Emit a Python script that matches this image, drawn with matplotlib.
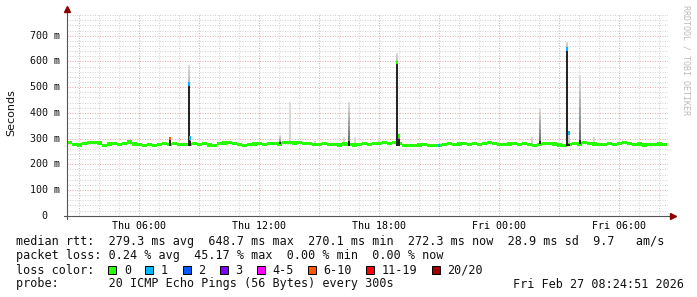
import datetime as dt
import numpy as np
import pandas as pd
import matplotlib
matplotlib.use("Agg")
import matplotlib.pyplot as plt
import matplotlib.dates as mdates
from matplotlib.patches import Rectangle
from matplotlib.ticker import MultipleLocator, FuncFormatter
from matplotlib.transforms import offset_copy, blended_transform_factory

W, H = 697, 297
MONO = "DejaVu Sans Mono"

t_start = dt.datetime(2026, 2, 26, 2, 24, 51)
t_end = dt.datetime(2026, 2, 27, 8, 24, 51)

# median rtt (s), one value per 15 min
median_rtt = [
    0.284, 0.277, 0.275, 0.282, 0.284, 0.285, 0.283, 0.274, 0.279, 0.281,
    0.276, 0.280, 0.287, 0.279, 0.278, 0.274, 0.276, 0.273, 0.277, 0.280,
    0.278, 0.280, 0.276, 0.278, 0.276, 0.280, 0.277, 0.281, 0.275, 0.274,
    0.281, 0.283, 0.284, 0.281, 0.277, 0.272, 0.276, 0.279, 0.280, 0.276,
    0.280, 0.282, 0.279, 0.284, 0.286, 0.283, 0.285, 0.282, 0.280, 0.278,
    0.277, 0.281, 0.278, 0.276, 0.275, 0.279, 0.276, 0.275, 0.278, 0.280,
    0.276, 0.280, 0.282, 0.284, 0.282, 0.285, 0.280, 0.273, 0.272, 0.273,
    0.275, 0.276, 0.274, 0.273, 0.272, 0.278, 0.281, 0.277, 0.279, 0.282,
    0.277, 0.280, 0.276, 0.281, 0.284, 0.282, 0.277, 0.276, 0.279, 0.281,
    0.277, 0.282, 0.276, 0.274, 0.278, 0.282, 0.280, 0.279, 0.275, 0.274,
    0.278, 0.281, 0.279, 0.284, 0.282, 0.279, 0.276, 0.278, 0.281, 0.277,
    0.281, 0.284, 0.282, 0.276, 0.279, 0.275, 0.278, 0.276, 0.279, 0.276,
]

# smoke around the spikes
spike_times = ["2026-02-26 07:35", "2026-02-26 08:30", "2026-02-26 08:35",
               "2026-02-26 13:05", "2026-02-26 13:35", "2026-02-26 14:50",
               "2026-02-26 16:15", "2026-02-26 16:30", "2026-02-26 16:50",
               "2026-02-26 18:00", "2026-02-26 18:55", "2026-02-26 19:00",
               "2026-02-27 01:40", "2026-02-27 02:05", "2026-02-27 03:25",
               "2026-02-27 03:30", "2026-02-27 04:05", "2026-02-27 04:45"]
smoke_lo = [0.272, 0.272, 0.272, 0.278, 0.280, 0.280, 0.280, 0.272, 0.280,
            0.280, 0.272, 0.272, 0.280, 0.278, 0.272, 0.272, 0.278, 0.280]
smoke_dense = [0.298, 0.515, 0.292, 0.285, 0.280, 0.280, 0.280, 0.290, 0.280,
               0.280, 0.597, 0.300, 0.280, 0.290, 0.651, 0.280, 0.295, 0.280]
smoke_hi = [0.300, 0.586, 0.300, 0.314, 0.443, 0.292, 0.306, 0.443, 0.305,
            0.294, 0.634, 0.310, 0.305, 0.420, 0.677, 0.322, 0.547, 0.305]
spread_share = [0.5, 0.3, 0.5, 0.5, 0.2, 0.2, 0.2, 0.6, 0.2,
                0.2, 0.3, 0.5, 0.2, 0.6, 0.3, 0.25, 0.6, 0.2]

# medians with their loss class
loss_times = ["2026-02-26 07:35", "2026-02-26 08:30", "2026-02-26 08:35",
              "2026-02-26 18:55", "2026-02-26 19:00", "2026-02-26 21:00",
              "2026-02-27 03:25", "2026-02-27 03:30"]
loss_median = [0.300, 0.512, 0.302, 0.597, 0.310, 0.273, 0.6487, 0.322]
loss_class = ["6-10", "1", "1", "0", "0", "1", "1", "1"]

loss_labels = ["0", "1", "2", "3", "4-5", "6-10", "11-19", "20/20"]
loss_colors = ["#26ff00", "#00b8ff", "#0059ff", "#7e00ff", "#ff00ff",
               "#ff5500", "#ff0000", "#a10000"]

y_ticks = [0, 0.1, 0.2, 0.3, 0.4, 0.5, 0.6, 0.7]
y_labels = ["0", "100 m", "200 m", "300 m", "400 m", "500 m", "600 m", "700 m"]

stats_rtt = "median rtt:  279.3 ms avg  648.7 ms max  270.1 ms min  272.3 ms now  28.9 ms sd  9.7   am/s"
stats_loss = "packet loss: 0.24 % avg  45.17 % max  0.00 % min  0.00 % now"
probe_txt = "probe:" + " " * 7 + "20 ICMP Echo Pings (56 Bytes) every 300s"
stamp_txt = "Fri Feb 27 08:24:51 2026"


def fx(px):
    return px / W


def fy(py):
    return 1 - py / H


fig = plt.figure(figsize=(W / 100, H / 100), dpi=100)
fig.patch.set_facecolor("white")
ax = fig.add_axes([fx(67), fy(215.7), 601 / W, 201.7 / H])
ax.set_xlim(mdates.date2num(t_start), mdates.date2num(t_end) + 0.05 / 24)
ax.set_ylim(0, 201.7 / 257.1)
for s in ax.spines.values():
    s.set_visible(False)

# grid
ax.set_axisbelow(True)
ax.xaxis.set_major_locator(mdates.HourLocator(byhour=range(0, 24, 3)))
ax.xaxis.set_minor_locator(mdates.HourLocator())
ax.yaxis.set_major_locator(MultipleLocator(0.1))
ax.yaxis.set_minor_locator(MultipleLocator(0.02))
ax.grid(which="minor", color="#d2d2d2", ls=(0, (1, 1.5)), lw=0.72)
ax.grid(which="major", color="#e6aaaa", ls=(0, (1, 1.5)), lw=0.72)


def xfmt(v, pos):
    d = mdates.num2date(v)
    return d.strftime("%a %H:%M") if d.hour % 6 == 0 else ""


ax.xaxis.set_major_formatter(FuncFormatter(xfmt))
ax.yaxis.set_major_formatter(FuncFormatter(lambda v, p: ""))
ax.tick_params(which="both", length=0)
ax.tick_params(axis="x", labelsize=7.2, pad=3.8, labelfontfamily=MONO)

# y labels
ytrans = blended_transform_factory(ax.transAxes, ax.transData)
for v, lab in zip(y_ticks, y_labels):
    off = -20 if lab == "0" else -7
    ax.text(0, v, lab, transform=offset_copy(ytrans, fig=fig, x=off, y=0, units="dots"),
            ha="right", va="center", family=MONO, size=7.2, color="#111111")

# smoke
day = 1.0 / 24
sw = 1.6 / 257.1
for t, lo, dn, hi, sh in zip(pd.to_datetime(spike_times), smoke_lo, smoke_dense, smoke_hi, spread_share):
    xc = mdates.date2num(t)
    if dn > lo:
        ax.bar(xc, dn - lo, bottom=lo, width=0.1 * day, color="#262626", lw=0, zorder=4)
    n = 8
    edges = np.linspace(dn, hi, n + 1)
    g0 = 1 - 0.9 * sh
    for k in range(n):
        g = g0 + (0.86 - g0) * k / (n - 1)
        ax.bar(xc, edges[k + 1] - edges[k], bottom=edges[k], width=0.1 * day,
               color=(g, g, g), lw=0, zorder=2)

# median line
med_x = mdates.date2num(pd.date_range(t_start, periods=len(median_rtt), freq="15min"))
med = np.array(median_rtt)
ax.bar(med_x, 2 * sw, bottom=med - sw, width=0.25 * day, align="edge",
       color=loss_colors[0], lw=0, zorder=3)
for t, m, c in zip(pd.to_datetime(loss_times), loss_median, loss_class):
    ax.bar(mdates.date2num(t), 2 * sw, bottom=m - sw, width=0.1 * day,
           color=loss_colors[loss_labels.index(c)], lw=0, zorder=5)

# axes with arrows
ax.plot([0, 0], [-3 / 201.7, 1 + 4 / 201.7], transform=ax.transAxes, clip_on=False,
        color="#555555", lw=0.8, zorder=6)
ax.plot([-3 / 601, 1 + 3 / 601], [0, 0], transform=ax.transAxes, clip_on=False,
        color="#555555", lw=0.8, zorder=6)
ax.plot(0, 1 + 5.5 / 201.7, marker="^", ms=4, color="#8b0000", mec="#8b0000",
        transform=ax.transAxes, clip_on=False, zorder=7)
ax.plot(1 + 5 / 601, 0, marker=">", ms=4, color="#8b0000", mec="#8b0000",
        transform=ax.transAxes, clip_on=False, zorder=7)

# labels
fig.text(fx(11), fy(113), "Seconds", rotation=90, ha="center", va="center",
         family="DejaVu Sans", size=8, color="#111111")
fig.text(fx(686), fy(5), "RRDTOOL / TOBI OETIKER", rotation=270, ha="center", va="top",
         family=MONO, size=6, color="#bbbbbb")

# legend
tk = dict(family=MONO, size=8.5, va="baseline", color="#111111")
fig.text(fx(16), fy(245.5), stats_rtt, **tk)
fig.text(fx(16), fy(259.5), stats_loss, **tk)
fig.text(fx(16), fy(273.5), "loss color:", **tk)
fig.text(fx(16), fy(287.5), probe_txt, **tk)
fig.text(fx(513), fy(287.5), stamp_txt, **tk)

x = 108.3
for lab, col in zip(loss_labels, loss_colors):
    fig.add_artist(Rectangle((fx(x), fy(273.5)), 8 / W, 8 / H, transform=fig.transFigure,
                             facecolor=col, edgecolor="black", lw=0.7))
    fig.text(fx(x + 15.5), fy(273.5), lab, **tk)
    x += 15.5 + 7.1 * len(lab) + 14.5

fig.savefig("out.png", dpi=100, facecolor="white")
